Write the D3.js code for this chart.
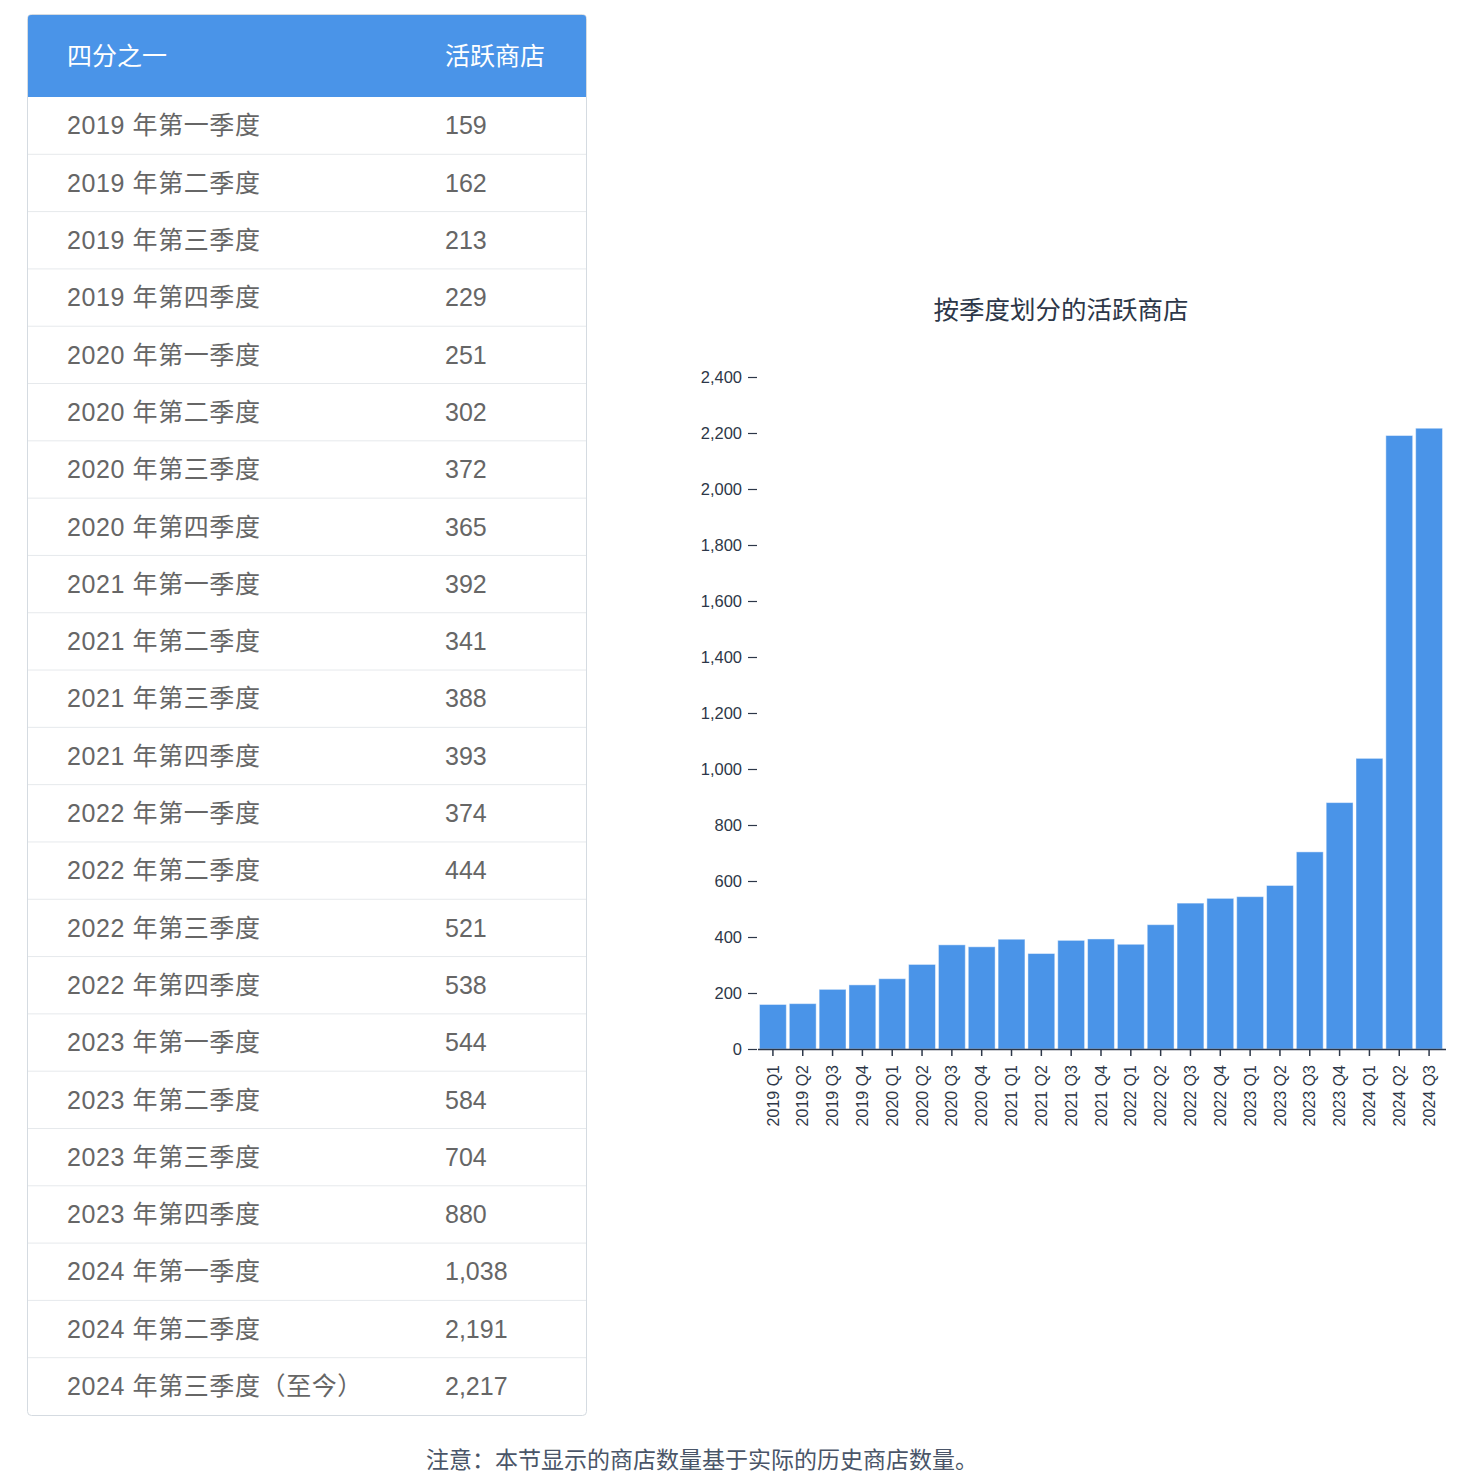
<!DOCTYPE html>
<html>
<head>
<meta charset="utf-8">
<script src="https://cdn.jsdelivr.net/npm/d3@7"></script>
<style>
  html, body { margin: 0; padding: 0; background: #fff; }
  svg { display: block; }
  text { font-family: "Liberation Sans", Arial, "Noto Sans CJK SC", sans-serif; }
</style>
</head>
<body>
<svg id="c" width="1466" height="1476"></svg>
<script>
const tableHeaders = ["四分之一", "活跃商店"];
const tableLabels = [
  "2019 年第一季度", "2019 年第二季度", "2019 年第三季度", "2019 年第四季度",
  "2020 年第一季度", "2020 年第二季度", "2020 年第三季度", "2020 年第四季度",
  "2021 年第一季度", "2021 年第二季度", "2021 年第三季度", "2021 年第四季度",
  "2022 年第一季度", "2022 年第二季度", "2022 年第三季度", "2022 年第四季度",
  "2023 年第一季度", "2023 年第二季度", "2023 年第三季度", "2023 年第四季度",
  "2024 年第一季度", "2024 年第二季度", "2024 年第三季度（至今）"
];
const categories = [
  "2019 Q1", "2019 Q2", "2019 Q3", "2019 Q4",
  "2020 Q1", "2020 Q2", "2020 Q3", "2020 Q4",
  "2021 Q1", "2021 Q2", "2021 Q3", "2021 Q4",
  "2022 Q1", "2022 Q2", "2022 Q3", "2022 Q4",
  "2023 Q1", "2023 Q2", "2023 Q3", "2023 Q4",
  "2024 Q1", "2024 Q2", "2024 Q3"
];
const activeStores = [159, 162, 213, 229, 251, 302, 372, 365, 392, 341, 388, 393,
  374, 444, 521, 538, 544, 584, 704, 880, 1038, 2191, 2217];
const yTicks = [0, 200, 400, 600, 800, 1000, 1200, 1400, 1600, 1800, 2000, 2200, 2400];
const chartTitle = "按季度划分的活跃商店";
const footnote = "注意：本节显示的商店数量基于实际的历史商店数量。";

const BLUE = "#4a94e8";
const svg = d3.select("#c");
const fmt = d3.format(",");

// ---------- Table ----------
const tX0 = 28, tX1 = 586, tY0 = 15, headH = 82;
const rowH = (1415 - (tY0 + headH)) / tableLabels.length;
const tY1 = tY0 + headH + rowH * tableLabels.length;
const colX = [67, 445];

const tbl = svg.append("g");
tbl.append("rect")
  .attr("x", tX0 - 0.5).attr("y", tY0 - 0.5)
  .attr("width", tX1 - tX0 + 1).attr("height", tY1 - tY0 + 1)
  .attr("rx", 4).attr("fill", "#fff").attr("stroke", "#d5dbe1").attr("stroke-width", 1);
tbl.append("path")
  .attr("d", `M${tX0},${tY0 + headH} V${tY0 + 3} Q${tX0},${tY0} ${tX0 + 3},${tY0} H${tX1 - 3} Q${tX1},${tY0} ${tX1},${tY0 + 3} V${tY0 + headH} Z`)
  .attr("fill", BLUE);
tbl.selectAll("text.h").data(tableHeaders).join("text")
  .attr("class", "h")
  .attr("x", (d, i) => colX[i]).attr("y", tY0 + headH / 2)
  .attr("dy", "0.35em")
  .attr("fill", "#fff").attr("font-size", 25)
  .text(d => d);

const rows = tbl.selectAll("g.r").data(tableLabels).join("g")
  .attr("class", "r")
  .attr("transform", (d, i) => `translate(0,${tY0 + headH + i * rowH})`);
rows.filter((d, i) => i > 0).append("line")
  .attr("x1", tX0).attr("x2", tX1).attr("y1", 0).attr("y2", 0)
  .attr("stroke", "#e6e9ec").attr("stroke-width", 1);
rows.append("text")
  .attr("x", colX[0]).attr("y", rowH / 2).attr("dy", "0.35em")
  .attr("fill", "#666").attr("font-size", 25).attr("letter-spacing", 0.6)
  .text(d => d);
rows.append("text")
  .attr("x", colX[1]).attr("y", rowH / 2).attr("dy", "0.35em")
  .attr("fill", "#666").attr("font-size", 25)
  .text((d, i) => fmt(activeStores[i]));

// ---------- Bar chart ----------
const x = d3.scaleBand().domain(categories).range([758, 1444]).paddingInner(0.1).paddingOuter(0.05);
const y = d3.scaleLinear().domain([0, 2400]).range([1049, 377]);
const AX = "#2d3748";

svg.append("text")
  .attr("x", 1061).attr("y", 310).attr("dy", "0.35em")
  .attr("text-anchor", "middle").attr("font-size", 25.5).attr("fill", "#2d3748")
  .text(chartTitle);

svg.append("g").selectAll("rect").data(activeStores).join("rect")
  .attr("x", (d, i) => x(categories[i]))
  .attr("y", d => y(d))
  .attr("width", x.bandwidth())
  .attr("height", d => y(0) - y(d))
  .attr("fill", BLUE)
  .attr("stroke", "rgba(255,255,255,0.45)").attr("stroke-width", 1);

const yAxis = svg.append("g").attr("transform", "translate(757,0)")
  .call(d3.axisLeft(y).tickValues(yTicks).tickFormat(fmt).tickSizeInner(9).tickSizeOuter(0).tickPadding(6));
yAxis.select(".domain").remove();
yAxis.selectAll(".tick line").attr("stroke", AX).attr("stroke-width", 1.2);
yAxis.selectAll(".tick text").attr("fill", AX).attr("font-size", 16.5)
  .attr("font-family", "'Liberation Sans', Arial, sans-serif");

const xAxis = svg.append("g").attr("transform", `translate(0,${y(0)})`)
  .call(d3.axisBottom(x).tickSizeInner(7).tickSizeOuter(0).tickPadding(8));
xAxis.select(".domain").attr("stroke", AX).attr("stroke-width", 1.5)
  .attr("d", "M758,0.5H1446");
xAxis.selectAll(".tick line").attr("stroke", AX).attr("stroke-width", 1.5);
xAxis.selectAll(".tick text")
  .attr("fill", AX).attr("font-size", 16)
  .attr("font-family", "'Liberation Sans', Arial, sans-serif")
  .attr("transform", "rotate(-90)")
  .attr("text-anchor", "end")
  .attr("x", -16).attr("y", 0).attr("dy", "0.35em");

svg.append("text")
  .attr("x", 702).attr("y", 1460).attr("dy", "0.35em")
  .attr("text-anchor", "middle").attr("font-size", 23).attr("fill", "#4a5568")
  .text(footnote);
</script>
</body>
</html>
